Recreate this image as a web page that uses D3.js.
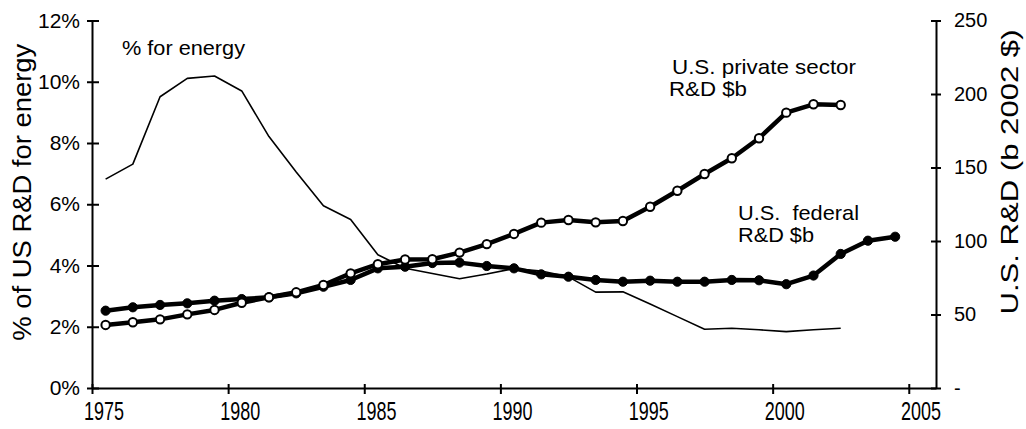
<!DOCTYPE html>
<html>
<head>
<meta charset="utf-8">
<script src="https://cdn.jsdelivr.net/npm/d3@7"></script>
<style>
  body { margin: 0; background: #fff; }
  svg { display: block; font-family: "Liberation Sans", Arial, sans-serif; }
  .axis path, .axis line { stroke: #000; stroke-width: 2; }
  .axis text { fill: #000; }
</style>
</head>
<body>
<svg id="chart" width="1026" height="429"></svg>
<script>
// years for each series
const federalYears = d3.range(1975, 2005);
const privateYears = d3.range(1975, 2003);
const energyYears = d3.range(1975, 2003);

// % of US R&D spent on energy
const energyPct = [6.82, 7.31, 9.51, 10.11, 10.19, 9.70, 8.21, 7.05, 5.95, 5.50,
    4.35, 3.91, 3.74, 3.57, 3.72, 3.90, 3.82, 3.63, 3.13, 3.14,
    2.74, 2.33, 1.92, 1.95, 1.90, 1.84, 1.90, 1.95];

// private sector R&D, $b (2002 $)
const privateRD = [42.9, 44.7, 46.7, 50.1, 53.1, 58.0, 61.7, 65.1, 70.1, 78.0,
    84.2, 87.4, 87.6, 92.1, 97.9, 104.8, 112.5, 114.3, 112.7, 113.6,
    123.3, 134.2, 145.6, 156.3, 169.9, 187.3, 193.0, 192.5];

// federal R&D, $b (2002 $)
const federalRD = [52.6, 54.9, 56.5, 57.6, 59.4, 60.5, 61.7, 64.4, 68.9, 73.5,
    81.4, 82.5, 85.0, 85.3, 83.0, 81.4, 77.3, 75.7, 73.5, 72.3,
    73.0, 72.3, 72.3, 73.5, 73.3, 70.6, 76.5, 91.2, 100.2, 102.9];

// tick labels
const xTicks = [1975, 1980, 1985, 1990, 1995, 2000, 2005];
const pctTicks = [0, 2, 4, 6, 8, 10, 12];
const usdTicks = [0, 50, 100, 150, 200, 250];

const svg = d3.select('#chart');
const plot = { left: 92, right: 936, top: 20.5, bottom: 388 };

const x = d3.scaleLinear().domain([1975, 2006]).range([plot.left, plot.right]);
const yPct = d3.scaleLinear().domain([0, 12]).range([plot.bottom, plot.top]);
const yUsd = d3.scaleLinear().domain([0, 250]).range([plot.bottom, plot.top]);

// values are plotted in the middle of each year
const half = x(1975.5) - x(1975);

/**
 * Axes
 */
const xAxis = svg.append('g')
    .attr('class', 'axis')
    .attr('transform', `translate(0,${plot.bottom})`)
    .call(d3.axisBottom(x).tickValues(xTicks).tickFormat(d3.format('d')).tickSizeOuter(0));
xAxis.selectAll('.tick line').attr('y1', -4).attr('y2', 6);
xAxis.selectAll('.tick text')
    .attr('x', half - 2)
    .attr('y', 14)
    .attr('dy', '0.71em')
    .attr('font-size', 26)
    .attr('textLength', 40)
    .attr('lengthAdjust', 'spacingAndGlyphs');

const leftAxis = svg.append('g')
    .attr('class', 'axis')
    .attr('transform', `translate(${plot.left},0)`)
    .call(d3.axisLeft(yPct).tickValues(pctTicks).tickFormat(d => d + '%').tickSizeOuter(0));
leftAxis.selectAll('.tick line').attr('x1', -5).attr('x2', 7);
leftAxis.selectAll('.tick text').attr('x', -12).attr('font-size', 21);

const rightAxis = svg.append('g')
    .attr('class', 'axis')
    .attr('transform', `translate(${x(2006)},0)`)
    .call(d3.axisRight(yUsd).tickValues(usdTicks).tickFormat(d => d === 0 ? '-' : d).tickSizeOuter(0));
rightAxis.selectAll('.tick line').attr('x1', -5).attr('x2', 5);
rightAxis.selectAll('.tick text').attr('x', 18).attr('font-size', 20);

/**
 * Axis titles
 */
svg.append('text')
    .attr('transform', `translate(31,${(plot.top + plot.bottom) / 2 - 12}) rotate(-90)`)
    .attr('text-anchor', 'middle')
    .attr('font-size', 26)
    .attr('textLength', 297)
    .attr('lengthAdjust', 'spacingAndGlyphs')
    .text('% of US R&D for energy');

svg.append('text')
    .attr('transform', `translate(1018,172) rotate(-90)`)
    .attr('text-anchor', 'middle')
    .attr('font-size', 24)
    .attr('textLength', 285)
    .attr('lengthAdjust', 'spacingAndGlyphs')
    .text('U.S. R&D (b 2002 $)');

/**
 * Lines
 */
const energyLine = d3.line()
    .x((d, i) => x(energyYears[i]) + half)
    .y(d => yPct(d));

svg.append('path')
    .datum(energyPct)
    .attr('fill', 'none')
    .attr('stroke', '#000')
    .attr('stroke-width', 1.6)
    .attr('stroke-linejoin', 'round')
    .attr('d', energyLine);

function drawSeries(values, years, filled) {
    const line = d3.line()
        .x((d, i) => x(years[i]) + half)
        .y(d => yUsd(d));

    const g = svg.append('g');
    g.append('path')
        .datum(values)
        .attr('fill', 'none')
        .attr('stroke', '#000')
        .attr('stroke-width', 4.5)
        .attr('stroke-linejoin', 'round')
        .attr('d', line);

    g.selectAll('circle')
        .data(values)
        .enter()
        .append('circle')
        .attr('cx', (d, i) => x(years[i]) + half)
        .attr('cy', d => yUsd(d))
        .attr('r', filled ? 4.6 : 4.2)
        .attr('fill', filled ? '#000' : '#fff')
        .attr('stroke', '#000')
        .attr('stroke-width', filled ? 1 : 2);
}

drawSeries(federalRD, federalYears, true);
drawSeries(privateRD, privateYears, false);

/**
 * Series labels
 */
const labels = [
    { text: '% for energy', x: 122, y: 55, size: 20, len: 123 },
    { text: 'U.S. private sector', x: 672, y: 74, size: 21, len: 184 },
    { text: 'R&D $b', x: 669, y: 96, size: 21, len: 78 },
    { text: 'U.S.  federal', x: 738, y: 220, size: 21, len: 121 },
    { text: 'R&D $b', x: 738, y: 242, size: 21, len: 76 }
];

svg.selectAll('text.series-label')
    .data(labels)
    .enter()
    .append('text')
    .attr('class', 'series-label')
    .attr('x', d => d.x)
    .attr('y', d => d.y)
    .attr('font-size', d => d.size)
    .attr('textLength', d => d.len)
    .attr('lengthAdjust', 'spacingAndGlyphs')
    .style('white-space', 'pre')
    .text(d => d.text);
</script>
</body>
</html>
